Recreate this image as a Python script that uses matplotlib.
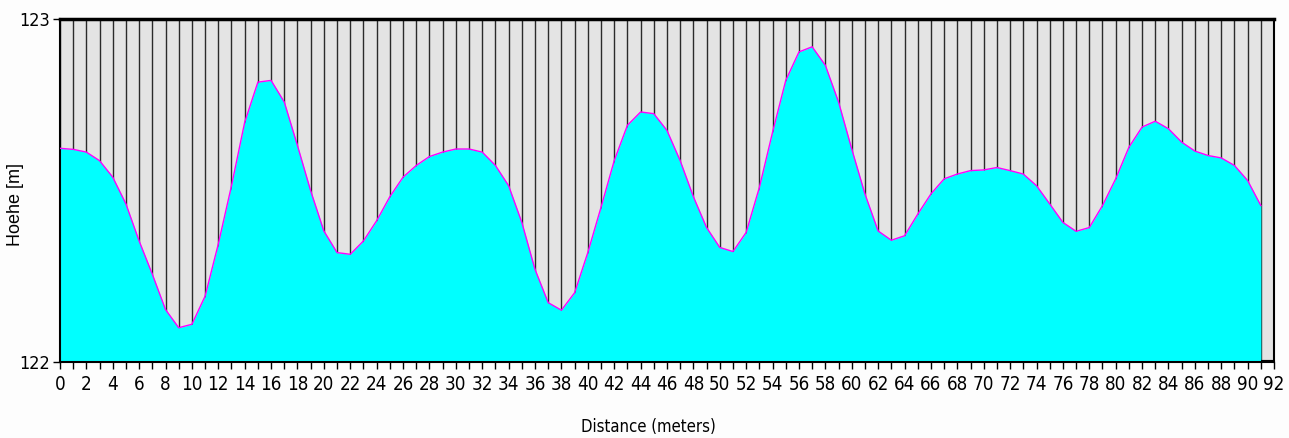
import matplotlib
matplotlib.use("Agg")
import matplotlib.pyplot as plt
from matplotlib.ticker import MultipleLocator, FixedLocator

# height profile, one sample per metre
distance = list(range(0, 92))
height = [
    122.623, 122.620, 122.612, 122.587, 122.539, 122.461, 122.353, 122.256, 122.153, 122.100,
    122.110, 122.192, 122.344, 122.514, 122.699, 122.816, 122.821, 122.758, 122.631, 122.499,
    122.382, 122.319, 122.314, 122.353, 122.412, 122.482, 122.539, 122.573, 122.599, 122.612,
    122.621, 122.621, 122.612, 122.573, 122.514, 122.407, 122.270, 122.173, 122.151, 122.202,
    122.319, 122.451, 122.587, 122.690, 122.729, 122.724, 122.675, 122.587, 122.482, 122.392,
    122.334, 122.322, 122.378, 122.509, 122.670, 122.821, 122.904, 122.919, 122.865, 122.758,
    122.621, 122.490, 122.382, 122.355, 122.368, 122.431, 122.490, 122.534, 122.548, 122.558,
    122.560, 122.567, 122.558, 122.548, 122.514, 122.461, 122.407, 122.381, 122.392, 122.456,
    122.534, 122.626, 122.685, 122.702, 122.680, 122.641, 122.615, 122.602, 122.595, 122.573,
    122.529, 122.456,
]
x_range = (0, 92)
y_range = (122, 123)
x_label = "Distance (meters)"
y_label = "Hoehe [m]"

# narrow look if a condensed face is around, else plain DejaVu
narrow = ["Liberation Sans Narrow", "DejaVu Sans"]

fig = plt.figure(figsize=(12.89, 4.38), dpi=100)
fig.patch.set_facecolor("#fdfdfd")
ax = fig.add_axes([0.0465, 0.1735, 0.9419, 0.7831])
ax.set_facecolor("#e4e4e4")

# vertical lines every metre behind the profile
ax.vlines(distance, y_range[0], y_range[1], colors="#2a2a2a", linewidth=1.0, zorder=1)
ax.fill_between(distance, y_range[0], height, color="#00ffff", linewidth=0, zorder=2)
ax.plot(distance, height, color="#ff00ff", linewidth=1.0, zorder=3)
# small dark bar at the end of the profile
ax.hlines(y_range[0], distance[-1], x_range[1], colors="black", linewidth=3, zorder=4)

ax.set_xlim(*x_range)
ax.set_ylim(*y_range)

ax.xaxis.set_major_locator(MultipleLocator(2))
ax.xaxis.set_minor_locator(MultipleLocator(1))
ax.yaxis.set_major_locator(FixedLocator([122, 123]))
ax.tick_params(axis="x", which="both", direction="out", length=5, width=1, colors="black", pad=4)
ax.tick_params(axis="y", which="both", direction="out", length=5, width=1, colors="black", pad=2)
for lab in ax.get_xticklabels():
    lab.set_family(narrow)
    lab.set_fontstretch("condensed")
    lab.set_fontsize(13.5)
for lab in ax.get_yticklabels():
    lab.set_family(narrow)
    lab.set_fontstretch("condensed")
    lab.set_fontsize(13)

for side in ["left", "right", "top", "bottom"]:
    ax.spines[side].set_color("black")
    ax.spines[side].set_linewidth(1.5)
ax.spines["top"].set_linewidth(2.5)

fig.text(648 / 1289, 1 - 427 / 438, x_label, family=narrow, fontstretch="condensed",
         fontsize=12, ha="center", va="center")
fig.text(16 / 1289, 1 - 205 / 438, y_label, family=["Liberation Sans", "DejaVu Sans"],
         fontsize=13, rotation=90, ha="center", va="center")

fig.savefig("out.png", dpi=100, facecolor=fig.get_facecolor())
